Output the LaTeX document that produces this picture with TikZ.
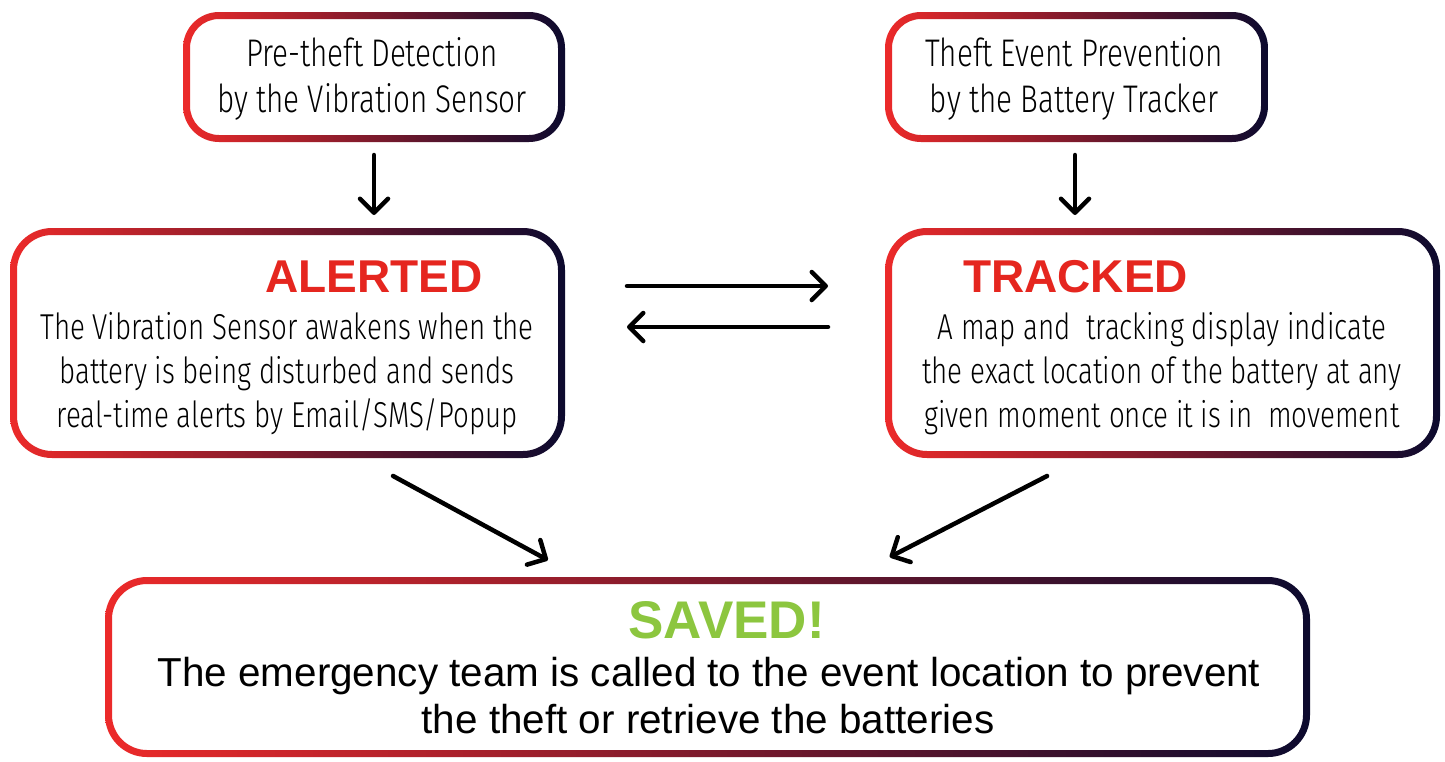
\documentclass[tikz,border=0pt]{standalone}
\usepackage{fontspec}
\setmainfont{Liberation Sans}
\newfontfamily\condlight{Fira Sans Light}[FakeStretch=0.77]
\usetikzlibrary{arrows.meta,calc}
\definecolor{gred}{HTML}{EC2A2A}
\definecolor{gmid}{HTML}{7A1530}
\definecolor{gnavy}{HTML}{0C0A2E}
\definecolor{tred}{HTML}{E5261F}
\definecolor{sgreen}{HTML}{8CC63F}
\newcommand\gradframe[3]{%
  \shade[even odd rule, left color=gred, middle color=gmid, right color=gnavy]
    [rounded corners=#2] (#1.south west) rectangle (#1.north east)
    [rounded corners=#3] ($(#1.south west)+(7pt,7pt)$) rectangle ($(#1.north east)+(-7pt,-7pt)$);}
\begin{document}
\begin{tikzpicture}[x=1pt,y=-1pt,
  box/.style={inner sep=0pt,outer sep=0pt,draw=none},
  toptext/.style={font=\condlight\fontsize{38.5}{46}\selectfont,anchor=base,inner sep=0pt,text=black},
  bodytext/.style={font=\condlight\fontsize{36}{44}\selectfont,anchor=base,inner sep=0pt,text=black},
  titletext/.style={font=\bfseries\fontsize{46}{50}\selectfont,anchor=base,inner sep=0pt,text=tred},
  savedtitle/.style={font=\bfseries\fontsize{53}{58}\selectfont,anchor=base,inner sep=0pt,text=sgreen},
  savedbody/.style={font=\fontsize{40.4}{47}\selectfont,anchor=base,inner sep=0pt,text=black},
  conn/.style={line width=4.5pt,line cap=round,line join=round,-{Straight Barb[length=14pt,width=28pt,round]}}]
\useasboundingbox[fill=white] (0,0) rectangle (1445,761);
% boxes
\node[box,minimum width=382pt,minimum height=130pt] (b1) at (374,77) {};
\node[box,minimum width=383pt,minimum height=130pt] (b2) at (1076.5,77) {};
\node[box,minimum width=555pt,minimum height=230pt] (b3) at (287.5,343) {};
\node[box,minimum width=555pt,minimum height=230pt] (b4) at (1162.5,343) {};
\node[box,minimum width=1205pt,minimum height=180pt] (b5) at (707.5,667) {};
\gradframe{b1}{36pt}{29pt}
\gradframe{b2}{36pt}{29pt}
\gradframe{b3}{42pt}{35pt}
\gradframe{b4}{42pt}{35pt}
\gradframe{b5}{42pt}{35pt}
% texts
\node[toptext] (t1a) at (372,66) {Pre-theft Detection};
\node[toptext] (t1b) at (372,112) {by the Vibration Sensor};
\node[toptext] (t2a) at (1074,66) {Theft Event Prevention};
\node[toptext] (t2b) at (1074,112) {by the Battery Tracker};
\node[titletext] (h3) at (374,292) {ALERTED};
\node[bodytext] (t3a) at (287,339) {The Vibration Sensor awakens when the};
\node[bodytext] (t3b) at (287,383) {battery is being disturbed and sends};
\node[bodytext] (t3c) at (287,427) {real-time alerts by Email/SMS/Popup};
\node[titletext] (h4) at (1075.5,292) {TRACKED};
\node[bodytext] (t4a) at (1162,339) {A map and\ \ tracking display indicate};
\node[bodytext] (t4b) at (1162,383) {the exact location of the battery at any};
\node[bodytext] (t4c) at (1162,427) {given moment once it is in\ \ movement};
\node[savedtitle] (h5) at (726.5,638) {SAVED!};
\node[savedbody] (t5a) at (709,686) {The emergency team is called to the event location to prevent};
\node[savedbody] (t5b) at (708,733) {the theft or retrieve the batteries};
% connectors
\draw[conn,shorten <=13pt,shorten >=13pt] (b1.south) -- (b1.south |- b3.north);
\draw[conn,shorten <=13pt,shorten >=13pt] ([xshift=-1.5pt]b2.south) -- ([xshift=-1.5pt]b2.south |- b4.north);
\draw[conn,shorten <=62pt,shorten >=57pt] ([yshift=57pt]b3.east) -- ([yshift=57pt]b4.west);
\draw[conn,shorten <=57pt,shorten >=62pt] ([yshift=16pt]b4.west) -- ([yshift=16pt]b3.east);
\draw[conn,shorten <=37.6pt,shorten >=35.4pt] ([xshift=72.5pt]b3.south) -- ([xshift=-128.5pt]b5.north);
\draw[conn,shorten <=39.3pt,shorten >=43.6pt] ([xshift=-80.5pt]b4.south) -- ([xshift=143.5pt]b5.north);
\end{tikzpicture}
\end{document}
